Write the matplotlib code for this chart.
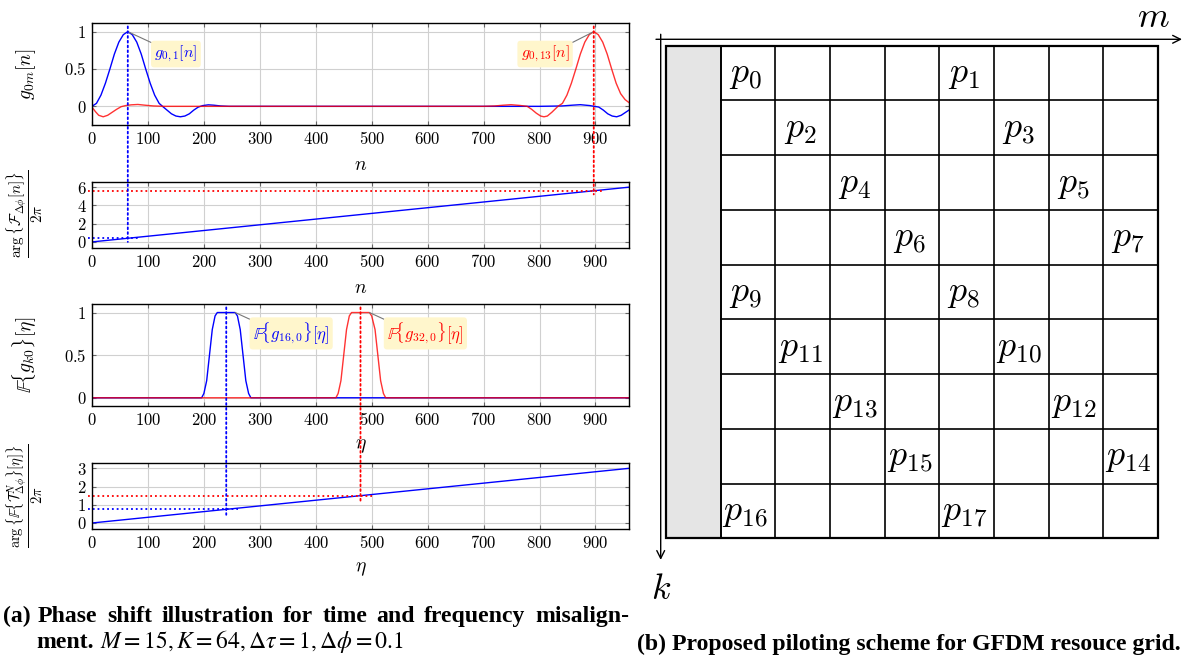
import numpy as np
import matplotlib
matplotlib.use('Agg')
import matplotlib.pyplot as plt
from matplotlib.patches import Rectangle, ConnectionPatch

plt.rcParams['mathtext.fontset'] = 'cm'
plt.rcParams['font.family'] = ['DejaVu Serif']

# ---------------- data ----------------
# (a) top: time-domain pulses g_{0,1}[n] (blue) and g_{0,13}[n] (red)
g01_n = [0, 8, 16, 24, 32, 40, 48, 56, 64, 72, 80, 88, 96, 104, 112, 120, 126, 134, 142,
         150, 158, 166, 174, 182, 190, 198, 208, 218, 230, 245, 300, 400, 500, 600, 700,
         800, 840, 858, 873, 890, 906, 914, 922, 930, 938, 946, 954, 960]
g01_v = [0.00, 0.04, 0.15, 0.31, 0.50, 0.70, 0.86, 0.96, 1.00, 0.96, 0.86, 0.70, 0.50, 0.31,
         0.15, 0.04, 0.00, -0.05, -0.10, -0.13, -0.14, -0.13, -0.10, -0.05, -0.01, 0.01, 0.02,
         0.015, 0.005, 0.0, 0.0, 0.0, 0.0, 0.0, 0.0, 0.0, 0.005, 0.015, 0.022, 0.01, -0.01,
         -0.05, -0.10, -0.13, -0.14, -0.12, -0.08, -0.05]
g013_n = [0, 6, 12, 20, 28, 36, 44, 52, 60, 70, 82, 95, 110, 130, 200, 300, 400, 500, 600,
          700, 720, 735, 749, 765, 778, 786, 794, 802, 808, 814, 822, 833, 841, 849, 857, 865,
          873, 881, 889, 897, 905, 913, 921, 929, 937, 945, 953, 960]
g013_v = [-0.01, -0.07, -0.12, -0.14, -0.12, -0.08, -0.04, -0.005, 0.01, 0.02, 0.025, 0.015,
          0.005, 0.0, 0.0, 0.0, 0.0, 0.0, 0.0, 0.0, 0.005, 0.015, 0.022, 0.012, 0.0, -0.04,
          -0.09, -0.13, -0.14, -0.13, -0.08, 0.00, 0.04, 0.15, 0.31, 0.50, 0.70, 0.86, 0.96,
          1.00, 0.96, 0.86, 0.70, 0.50, 0.31, 0.17, 0.09, 0.05]
time_peaks = [64, 897]

# (a) 2nd: phase of F_{dphi}[n] / 2pi
ph1_n = [0, 960]
ph1_v = [0.0, 6.0]

# (a) 3rd: frequency-domain pulses F{g_{16,0}} (blue), F{g_{32,0}} (red)
f16_n = [0, 196, 200, 205, 210, 215, 220, 224, 256, 260, 265, 270, 275, 280, 284, 960]
f16_v = [0, 0, 0.05, 0.2, 0.5, 0.8, 0.96, 1.0, 1.0, 0.96, 0.8, 0.5, 0.2, 0.05, 0, 0]
f32_n = [0, 436, 440, 445, 450, 455, 460, 464, 496, 500, 506, 511, 516, 521, 525, 960]
f32_v = [0, 0, 0.05, 0.2, 0.5, 0.8, 0.96, 1.0, 1.0, 0.96, 0.8, 0.5, 0.2, 0.05, 0, 0]
freq_centers = [240, 480]

# (a) bottom: phase of F{T^N_{dphi}}[eta] / 2pi
ph2_n = [0, 960]
ph2_v = [0.0, 3.0]

xticks = list(range(0, 901, 100))

# (b) pilot grid: label, row k, column m (column 0 is the grey column)
pilot_labels = ['p_{0}', 'p_{1}', 'p_{2}', 'p_{3}', 'p_{4}', 'p_{5}', 'p_{6}', 'p_{7}',
                'p_{9}', 'p_{8}', 'p_{11}', 'p_{10}', 'p_{13}', 'p_{12}', 'p_{15}', 'p_{14}',
                'p_{16}', 'p_{17}']
pilot_rows = [0, 0, 1, 1, 2, 2, 3, 3, 4, 4, 5, 5, 6, 6, 7, 7, 8, 8]
pilot_cols = [1, 5, 2, 6, 3, 7, 4, 8, 1, 5, 2, 6, 3, 7, 4, 8, 1, 5]
n_rows, n_cols = 9, 9

# ---------------- figure ----------------
W, H = 1186, 657
fig = plt.figure(figsize=(W / 100, H / 100), dpi=100)


def px_axes(l, t, r, b):
    return fig.add_axes([l / W, 1 - b / H, (r - l) / W, (b - t) / H])


def style(ax, ylim, yticks, ylabels):
    ax.set_xlim(0, 960)
    ax.set_ylim(*ylim)
    ax.set_xticks(xticks)
    ax.set_xticklabels([f'${v}$' for v in xticks])
    ax.set_yticks(yticks)
    ax.set_yticklabels([f'${v}$' for v in ylabels])
    ax.grid(True, color='#d0d0d0', lw=0.8)
    ax.set_axisbelow(True)
    ax.tick_params(direction='in', top=True, right=True, length=3, color='#666666',
                   labelsize=12, pad=4)
    for s in ax.spines.values():
        s.set_linewidth(1.0)


BLUE = '#0000ff'
RED = '#ff0000'
BOXC = '#fff6cc'

ax1 = px_axes(92, 22.7, 629, 125)
ax2 = px_axes(92, 181.7, 629, 248.3)
ax3 = px_axes(92, 304, 629, 406.3)
ax4 = px_axes(92, 462.7, 629, 529)

style(ax1, (-0.25, 1.12), [0, 0.5, 1], ['0', '0.5', '1'])
style(ax2, (-0.7, 6.6), [0, 2, 4, 6], ['0', '2', '4', '6'])
style(ax3, (-0.1, 1.1), [0, 0.5, 1], ['0', '0.5', '1'])
style(ax4, (-0.33, 3.31), [0, 1, 2, 3], ['0', '1', '2', '3'])

ax1.plot(g01_n, g01_v, color=BLUE, lw=1.0)
ax1.plot(g013_n, g013_v, color=RED, lw=1.0, alpha=0.8)
ax2.plot(ph1_n, ph1_v, color=BLUE, lw=1.0)
ax3.plot(f16_n, f16_v, color=BLUE, lw=1.0)
ax3.plot(f32_n, f32_v, color=RED, lw=1.0, alpha=0.8)
ax4.plot(ph2_n, ph2_v, color=BLUE, lw=1.0)

# annotations
ann_kw = dict(ha='center', va='center', textcoords='data')
ax1.annotate(r'$g_{0,1}[n]$', xy=(time_peaks[0], 1.0), xytext=(150, 0.70), color=BLUE,
             fontsize=11.5, bbox=dict(boxstyle='round,pad=0.2', fc=BOXC, ec='none'),
             arrowprops=dict(arrowstyle='-', color='#777777', lw=0.8, shrinkA=0, shrinkB=0,
                             relpos=(0, 1)), **ann_kw)
ax1.annotate(r'$g_{0,13}[n]$', xy=(time_peaks[1], 1.0), xytext=(810, 0.70), color=RED,
             fontsize=11.5, bbox=dict(boxstyle='round,pad=0.2', fc=BOXC, ec='none'),
             arrowprops=dict(arrowstyle='-', color='#777777', lw=0.8, shrinkA=0, shrinkB=0,
                             relpos=(1, 1)), **ann_kw)
ax3.annotate(r'$\mathbb{F}\{g_{16,0}\}[\eta]$', xy=(f16_n[8], 1.0), xytext=(356, 0.755),
             color=BLUE, fontsize=12, bbox=dict(boxstyle='round,pad=0.2', fc=BOXC, ec='none'),
             arrowprops=dict(arrowstyle='-', color='#777777', lw=0.8, shrinkA=0, shrinkB=0,
                             relpos=(0, 1)), **ann_kw)
ax3.annotate(r'$\mathbb{F}\{g_{32,0}\}[\eta]$', xy=(f32_n[8], 1.0), xytext=(596, 0.755),
             color=RED, fontsize=12, bbox=dict(boxstyle='round,pad=0.2', fc=BOXC, ec='none'),
             arrowprops=dict(arrowstyle='-', color='#777777', lw=0.8, shrinkA=0, shrinkB=0,
                             relpos=(0, 1)), **ann_kw)

# guide lines
def guides(axA, axB, xs, topA, ph_n, ph_v, cols, ext, below):
    for x, c, e in zip(xs, cols, ext):
        yv = float(np.interp(x, ph_n, ph_v))
        con = ConnectionPatch(xyA=(x, topA), coordsA=axA.transData,
                              xyB=(x, yv - below), coordsB=axB.transData,
                              color=c, ls=':', lw=1.3)
        fig.add_artist(con)
        axB.plot([-7, x + e], [yv, yv], ls=':', color=c, lw=1.3, clip_on=False)


guides(ax1, ax2, time_peaks, 1.07, ph1_n, ph1_v, [BLUE, RED], [21, 18], 0.4)
guides(ax3, ax4, freq_centers, 1.06, ph2_n, ph2_v, [BLUE, RED], [21, 20], 0.3)

# axis labels
lab_fs = 14
fig.text(26 / W, 1 - 74 / H, r'$g_{0m}[n]$', rotation=90, ha='center', va='center',
         fontsize=lab_fs)
fig.text(25 / W, 1 - 214 / H, r'$\dfrac{\arg\{\mathcal{F}_{\Delta\phi}[n]\}}{2\pi}$',
         rotation=90, ha='center', va='center', fontsize=11)
fig.text(25 / W, 1 - 355 / H, r'$\mathbb{F}\{g_{k0}\}[\eta]$', rotation=90, ha='center',
         va='center', fontsize=lab_fs)
fig.text(25 / W, 1 - 496 / H,
         r'$\dfrac{\arg\{\mathbb{F}\{\mathcal{T}^{N}_{\Delta\phi}\}[\eta]\}}{2\pi}$',
         rotation=90, ha='center', va='center', fontsize=10.5)
for ax, lab in [(ax1, r'$n$'), (ax2, r'$n$'), (ax3, r'$\eta$'), (ax4, r'$\eta$')]:
    ax.set_xlabel(lab, fontsize=lab_fs, labelpad=6)

# ---------------- (b) grid ----------------
axg = px_axes(666, 45.7, 1158, 538.3)
axg.set_xlim(0, n_cols)
axg.set_ylim(n_rows, 0)
axg.axis('off')
cell = 492 / 9.0
axg.add_patch(Rectangle((0, 0), 1, n_rows, fc='#e5e5e5', ec='black', lw=1.2, clip_on=False))
for c in range(1, n_cols):
    axg.plot([c, c], [0, n_rows], color='black', lw=1.2, clip_on=False)
for r in range(1, n_rows):
    axg.plot([1, n_cols], [r, r], color='black', lw=1.2, clip_on=False)
axg.add_patch(Rectangle((0, 0), n_cols, n_rows, fc='none', ec='black', lw=1.6, clip_on=False))
for lab, r, c in zip(pilot_labels, pilot_rows, pilot_cols):
    axg.text(c + 0.45, r + 0.52, f'${lab}$', ha='center', va='center', fontsize=26)


def pxg(xp, yp):
    return ((xp - 666) / cell, (yp - 45.7) / cell)


axg.annotate('', xy=pxg(1182, 39.3), xytext=pxg(656, 39.3),
             arrowprops=dict(arrowstyle='->', lw=1.0, color='black', shrinkA=0, shrinkB=0,
                             mutation_scale=14), annotation_clip=False)
axg.annotate('', xy=pxg(660.7, 559.3), xytext=pxg(660.7, 34.3),
             arrowprops=dict(arrowstyle='->', lw=1.0, color='black', shrinkA=0, shrinkB=0,
                             mutation_scale=14), annotation_clip=False)
axg.text(*pxg(1153, 17), r'$m$', ha='center', va='center', fontsize=26)
axg.text(*pxg(661, 588), r'$k$', ha='center', va='center', fontsize=26)

# ---------------- captions ----------------
cap_kw = dict(fontfamily='Liberation Serif', fontweight='bold', va='baseline')
renderer = fig.canvas.get_renderer()
tb = fig.text(637 / W, 1 - 650 / H, '(b) Proposed piloting scheme for GFDM resouce grid.',
              fontsize=16, **cap_kw)
wb = tb.get_window_extent(renderer).width
fs = 16 * 545.0 / wb
tb.set_fontsize(fs)

fig.text(2.7 / W, 1 - 621.7 / H, '(a)', fontsize=fs, **cap_kw)
# justified first line of caption (a)
words = 'Phase shift illustration for time and frequency misalign-'.split()
wtexts = [fig.text(0, 1 - 621.7 / H, w, fontsize=fs, **cap_kw) for w in words]
widths = [t.get_window_extent(renderer).width for t in wtexts]
x0, x1 = 38.0, 629.0
gap = (x1 - x0 - sum(widths)) / (len(words) - 1)
xc = x0
for t, w in zip(wtexts, widths):
    t.set_x(xc / W)
    xc += w + gap

tm = fig.text(36 / W, 1 - 648.3 / H, 'ment.', fontsize=fs, **cap_kw)
wm = tm.get_window_extent(renderer).width
fig.text((36 + wm + 6) / W, 1 - 648.3 / H,
         r'$M=15, K=64, \Delta\tau=1, \Delta\phi=0.1$', fontsize=fs, va='baseline',
         math_fontfamily='stix')

fig.savefig('out.png', dpi=100)
